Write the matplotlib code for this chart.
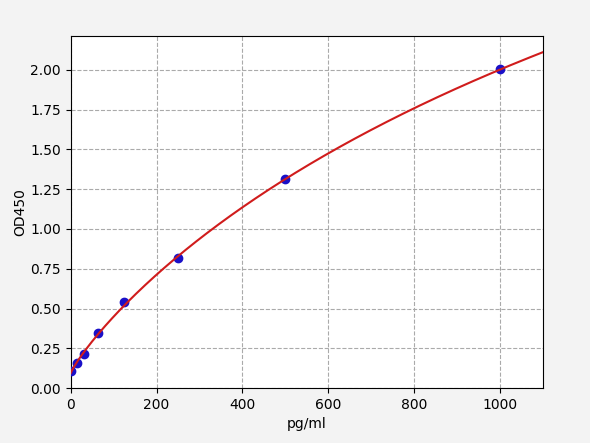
import numpy as np
import matplotlib
matplotlib.use("Agg")
from matplotlib import pyplot as plt

# standard points
conc = [0, 15.6, 31.25, 62.5, 125, 250, 500, 1000]
od = [0.105, 0.157, 0.212, 0.346, 0.54, 0.816, 1.314, 2.003]

# four parameter logistic fit, grid over b and c, least squares for a and d
x = np.array(conc)
y = np.array(od)
best = None
for b in np.linspace(0.5, 2.0, 151):
    for c in np.logspace(2, 5, 301):
        g = 1.0 / (1.0 + (x / c) ** b)
        A = np.column_stack([g, 1 - g])
        sol, _, _, _ = np.linalg.lstsq(A, y, rcond=None)
        err = np.sum((A @ sol - y) ** 2)
        if best is None or err < best[0]:
            best = (err, b, c, sol)
_, b, c, (a, d) = best

xs = np.linspace(0, 1100, 400)
ys = d + (a - d) / (1.0 + (xs / c) ** b)

fig = plt.figure(figsize=(5.9, 4.43), dpi=100, facecolor='#f3f3f3')
ax = fig.add_axes([0.120, 0.124, 0.800, 0.795])

ax.scatter(conc, od, color='#1a10c8', s=36, zorder=3)
ax.plot(xs, ys, color='#d01c1c', linewidth=1.5, zorder=4)

ax.set_xlim(0, 1100)
ax.set_ylim(0, 2.214)
ax.set_yticks([0, 0.25, 0.5, 0.75, 1.0, 1.25, 1.5, 1.75, 2.0])
ax.yaxis.set_major_formatter(matplotlib.ticker.FormatStrFormatter('%.2f'))
ax.grid(True, linestyle='--', color='#aaaaaa', linewidth=0.8)
ax.set_xlabel("pg/ml")
ax.set_ylabel("OD450", labelpad=2)

fig.savefig("out.png", dpi=100, facecolor=fig.get_facecolor())
